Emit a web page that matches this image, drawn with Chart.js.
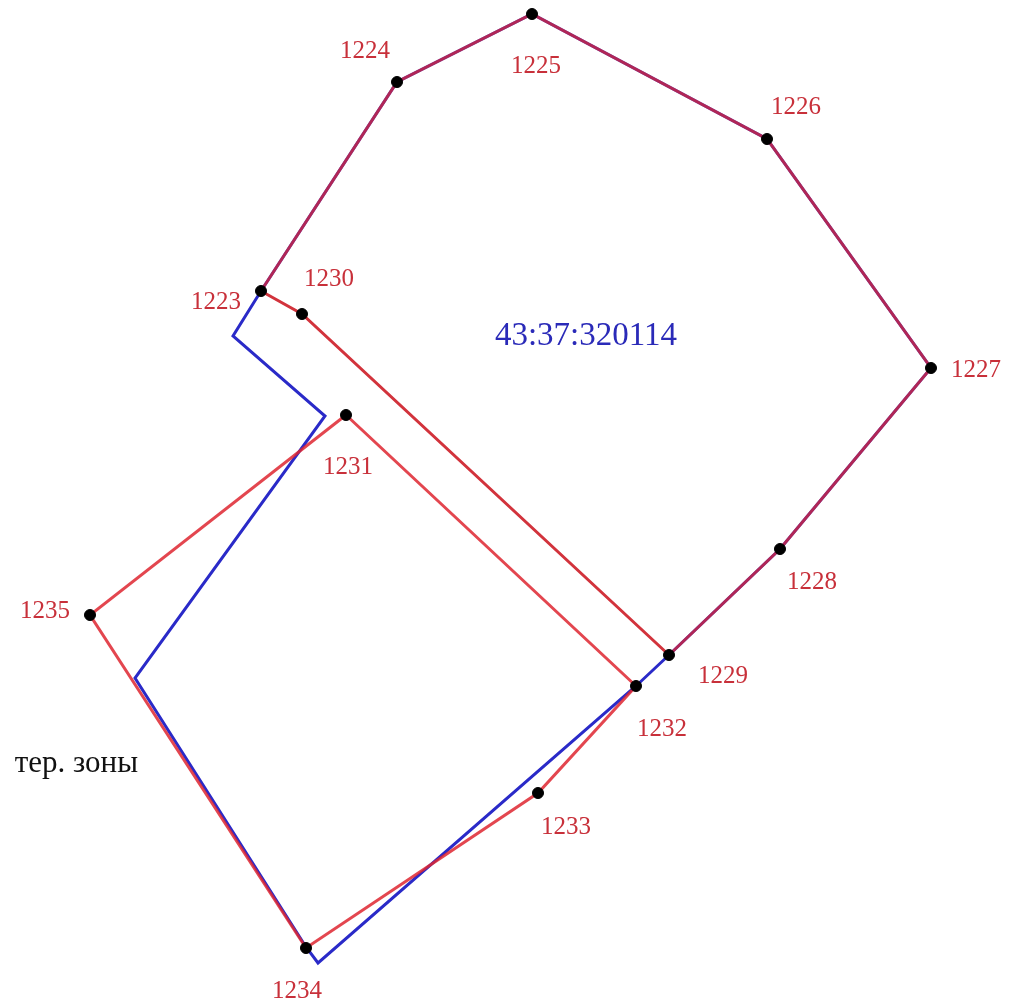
<!doctype html>
<html>
<head>
	<meta charset="utf-8">
	<title>43:37:320114</title>
	<script src="https://cdnjs.cloudflare.com/ajax/libs/Chart.js/4.4.1/chart.umd.min.js"></script>
	<style>
		html, body { margin: 0; padding: 0; background: #fff; }
		canvas { display: block; }
	</style>
</head>
<body>
	<canvas id="plan" width="1012" height="1004"></canvas>
	<script>
		// turning points, in drawing units
		var pointNames = ["1223", "1224", "1225", "1226", "1227", "1228", "1229", "1230", "1231", "1232", "1233", "1234", "1235"];
		var pointX = [261, 397, 532, 767, 931, 780, 669, 302, 346, 636, 538, 306, 90];
		var pointY = [291, 82, 14, 139, 368, 549, 655, 314, 415, 686, 793, 948, 615];
		var nameX = [216, 365, 536, 796, 976, 812, 723, 329, 348, 662, 566, 297, 45];
		var nameY = [302, 51, 66, 107, 370, 582, 676, 279, 467, 729, 827, 991, 611];

		// red outlines: shared with the blue boundary, then the two free runs
		var sharedX = [669, 780, 931, 767, 532, 397, 261];
		var sharedY = [655, 549, 368, 139, 14, 82, 291];
		var innerX = [261, 302, 669];
		var innerY = [291, 314, 655];
		var lowerX = [346, 636, 538, 306, 90, 346];
		var lowerY = [415, 686, 793, 948, 615, 415];

		// blue quarter boundary
		var blueX = [261, 233, 325, 135, 306, 318, 636, 669, 780, 931, 767, 532, 397, 261];
		var blueY = [291, 336, 416, 678, 947, 963, 686, 655, 549, 368, 139, 14, 82, 291];

		var quarterName = "43:37:320114";
		var zoneText = "тер. зоны";

		function toPoints(xs, ys) {
			return xs.map(function (x, i) { return { x: x, y: ys[i] }; });
		}

		var planLabels = {
			id: "planLabels",
			afterDatasetsDraw: function (chart) {
				var ctx = chart.ctx;
				var xs = chart.scales.x;
				var ys = chart.scales.y;
				ctx.save();
				ctx.textBaseline = "middle";
				ctx.textAlign = "center";
				ctx.font = '25px "Liberation Serif"';
				ctx.fillStyle = "#c8303a";
				pointNames.forEach(function (name, i) {
					ctx.fillText(name, xs.getPixelForValue(nameX[i]), ys.getPixelForValue(nameY[i]));
				});
				ctx.font = '33px "Liberation Serif"';
				ctx.fillStyle = "#2a2ab8";
				ctx.fillText(quarterName, xs.getPixelForValue(586), ys.getPixelForValue(336));
				ctx.font = '31px "Liberation Serif"';
				ctx.fillStyle = "#111";
				ctx.textAlign = "right";
				ctx.fillText(zoneText, xs.getPixelForValue(138), ys.getPixelForValue(764));
				ctx.restore();
			}
		};

		new Chart("plan", {
			type: "scatter",
			data: {
				datasets: [
					{
						label: "Граница квартала",
						data: toPoints(blueX, blueY),
						showLine: true,
						borderColor: "#2a2ac8",
						borderWidth: 3,
						pointRadius: 0,
						order: 3
					},
					{
						label: "Общая граница",
						data: toPoints(sharedX, sharedY),
						showLine: true,
						borderColor: "rgba(222, 38, 48, 0.75)",
						borderWidth: 3,
						pointRadius: 0,
						order: 2
					},
					{
						label: "Внутренняя граница",
						data: toPoints(innerX, innerY),
						showLine: true,
						borderColor: "#d2333c",
						borderWidth: 3,
						pointRadius: 0,
						order: 2
					},
					{
						label: "Нижний участок",
						data: toPoints(lowerX, lowerY),
						showLine: true,
						borderColor: "rgba(222, 38, 48, 0.85)",
						borderWidth: 3,
						pointRadius: 0,
						order: 2
					},
					{
						label: "Точки",
						data: toPoints(pointX, pointY),
						showLine: false,
						backgroundColor: "#000",
						borderColor: "#000",
						pointRadius: 5.5,
						order: 1
					}
				]
			},
			options: {
				responsive: false,
				animation: false,
				layout: { padding: 0, autoPadding: false },
				plugins: {
					legend: { display: false },
					tooltip: { enabled: false }
				},
				scales: {
					x: { type: "linear", min: 0, max: 1012, display: false },
					y: { type: "linear", min: 0, max: 1004, reverse: true, display: false }
				}
			},
			plugins: [planLabels]
		});
	</script>
</body>
</html>
